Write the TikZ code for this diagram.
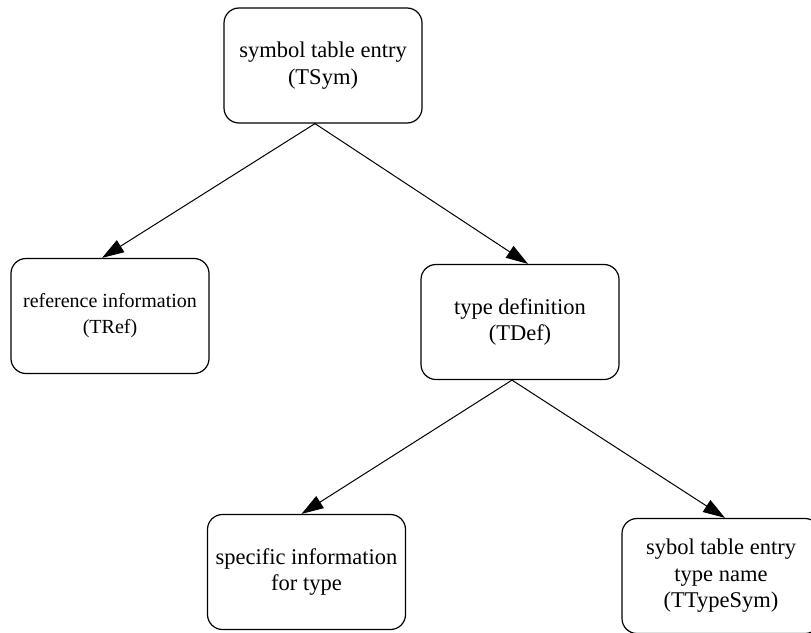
\documentclass[tikz,border=0pt]{standalone}
\usepackage{fontspec}
\setmainfont{Liberation Serif}
\usetikzlibrary{arrows.meta}

\tikzset{
  entity/.style={draw, line width=1.2pt, rounded corners=15pt,
    minimum width=198pt, minimum height=115pt, inner sep=0pt,
    align=center, font=\fontsize{22.5}{26.5}\selectfont},
  link/.style={line width=1pt, -{Triangle[length=22pt,width=14pt]}}
}

\begin{document}
\begin{tikzpicture}[x=1pt,y=-1pt]
  \clip (0,0) rectangle (811,632);

  % entry and its two children
  \node[entity] (tsym) at (323,65.5) {symbol table entry\\(TSym)};
  \node[entity, font=\fontsize{20}{26}\selectfont] (tref) at (110,316) {reference information\\(TRef)};
  \node[entity] (tdef) at (520,322) {type definition\\(TDef)};

  % children of the type definition
  \node[entity] (tspec) at (306.5,572) {specific information\\for type};
  \node[entity] (ttype) at (721,576) {sybol table entry\\type name\\(TTypeSym)};

  \draw[link] ([xshift=-8pt]tsym.south) -- ([xshift=-8pt]tref.north);
  \draw[link] ([xshift=-8pt]tsym.south) -- ([xshift=8pt]tdef.north);
  \draw[link] ([xshift=-8pt]tdef.south) -- ([xshift=-5pt]tspec.north);
  \draw[link] ([xshift=-8pt]tdef.south) -- ([xshift=4pt]ttype.north);
\end{tikzpicture}
\end{document}
